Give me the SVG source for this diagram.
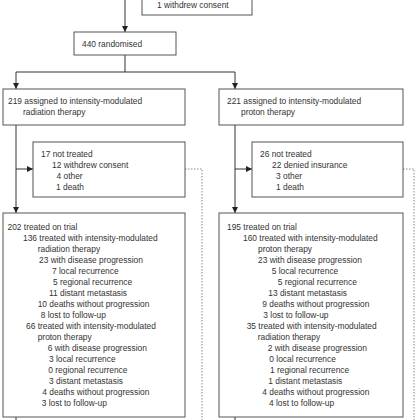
<svg xmlns="http://www.w3.org/2000/svg" width="420" height="420" viewBox="0 0 420 420">
<style>
.b{fill:#fff;stroke:#555;stroke-width:1}
.c{fill:none;stroke:#333;stroke-width:1}
.d{fill:none;stroke:#888;stroke-width:1;stroke-dasharray:1.5 1.5}
text{font-family:"Liberation Sans",Arial,sans-serif;font-size:8.4px;fill:#333}
</style>
<defs>
<marker id="a" viewBox="0 0 6 6" refX="6" refY="3" markerWidth="6" markerHeight="6" markerUnits="userSpaceOnUse" orient="auto">
<path d="M0,0L6,3L0,6z" fill="#222"/>
</marker>
</defs>
<rect width="420" height="420" fill="#fff"/>
<g id="connectors">
<path class="c" d="M125,0V32" marker-end="url(#a)"/>
<path class="c" d="M125,55V72H16V89" marker-end="url(#a)"/>
<path class="c" d="M125,72H235V89" marker-end="url(#a)"/>
<path class="c" d="M16,125V213" marker-end="url(#a)"/>
<path class="c" d="M16,169H33" marker-end="url(#a)"/>
<path class="c" d="M235,125V213" marker-end="url(#a)"/>
<path class="c" d="M235,169H252" marker-end="url(#a)"/>
<path class="c" d="M16,417V420"/>
<path class="c" d="M235,417V420"/>
<path class="d" d="M185,169H202V420"/>
<path class="d" d="M403,169H414V420"/>
</g>
<g id="excluded">
<rect class="b" x="142" y="-5" width="110" height="20"/>
<text x="157" y="8">1 withdrew consent</text>
</g>
<g id="randomised">
<rect class="b" x="74" y="32" width="102" height="23"/>
<text x="82" y="46.5">440 randomised</text>
</g>
<g id="imrt-assigned">
<rect class="b" x="3" y="89" width="182" height="36"/>
<text x="8" y="103.5">219 assigned to intensity-modulated</text>
<text x="23" y="114.5">radiation therapy</text>
</g>
<g id="impt-assigned">
<rect class="b" x="219" y="89" width="184" height="36"/>
<text x="227" y="103.5">221 assigned to intensity-modulated</text>
<text x="241" y="114.5">proton therapy</text>
</g>
<g id="imrt-not-treated">
<rect class="b" x="33" y="142" width="152" height="55"/>
<text x="41" y="156.5">17 not treated</text>
<text x="52" y="167.5">12 withdrew consent</text>
<text x="56.5" y="178.5">4 other</text>
<text x="56" y="189.5">1 death</text>
</g>
<g id="impt-not-treated">
<rect class="b" x="252" y="142" width="151" height="55"/>
<text x="260" y="156.5">26 not treated</text>
<text x="272" y="167.5">22 denied insurance</text>
<text x="276" y="178.5">3 other</text>
<text x="276" y="189.5">1 death</text>
</g>
<g id="imrt-treated">
<rect class="b" x="3" y="213" width="182" height="204"/>
<text x="7.5" y="229.5">202 treated on trial</text>
<text x="23" y="240.5">136 treated with intensity-modulated</text>
<text x="37.7" y="251.5">radiation therapy</text>
<text x="39" y="262.5">23 with disease progression</text>
<text x="52" y="273.5">7 local recurrence</text>
<text x="53" y="284.5">5 regional recurrence</text>
<text x="49" y="295.5">11 distant metastasis</text>
<text x="37.7" y="306.5">10 deaths without progression</text>
<text x="40.7" y="317.5">8 lost to follow-up</text>
<text x="26" y="328.5">66 treated with intensity-modulated</text>
<text x="37.7" y="339.5">proton therapy</text>
<text x="47.7" y="350.5">6 with disease progression</text>
<text x="49" y="361.5">3 local recurrence</text>
<text x="48.3" y="372.5">0 regional recurrence</text>
<text x="49" y="383.5">3 distant metastasis</text>
<text x="42.3" y="394.5">4 deaths without progression</text>
<text x="41.7" y="405.5">3 lost to follow-up</text>
</g>
<g id="impt-treated">
<rect class="b" x="219" y="213" width="184" height="204"/>
<text x="227" y="229.5">195 treated on trial</text>
<text x="243" y="240.5">160 treated with intensity-modulated</text>
<text x="258" y="251.5">proton therapy</text>
<text x="258" y="262.5">23 with disease progression</text>
<text x="271.7" y="273.5">5 local recurrence</text>
<text x="277.7" y="284.5">5 regional recurrence</text>
<text x="268.3" y="295.5">13 distant metastasis</text>
<text x="262.3" y="306.5">9 deaths without progression</text>
<text x="263.3" y="317.5">3 lost to follow-up</text>
<text x="246.7" y="328.5">35 treated with intensity-modulated</text>
<text x="257.7" y="339.5">radiation therapy</text>
<text x="267.7" y="350.5">2 with disease progression</text>
<text x="269.3" y="361.5">0 local recurrence</text>
<text x="270" y="372.5">1 regional recurrence</text>
<text x="268.3" y="383.5">1 distant metastasis</text>
<text x="262.3" y="394.5">4 deaths without progression</text>
<text x="269" y="405.5">4 lost to follow-up</text>
</g>
</svg>
